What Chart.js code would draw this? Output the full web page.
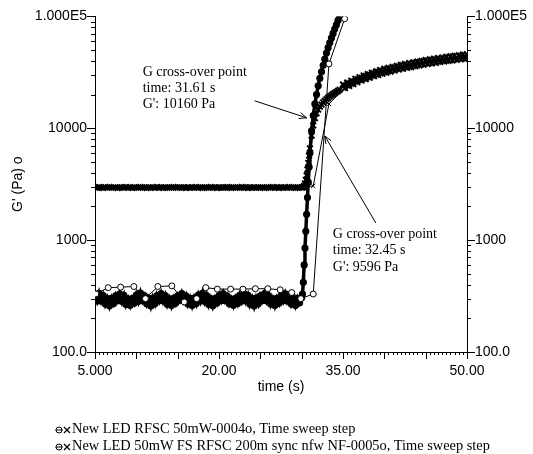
<!DOCTYPE html>
<html><head><meta charset="utf-8">
<script src="https://cdn.jsdelivr.net/npm/chart.js@4.4.1/dist/chart.umd.min.js"></script>
<style>
html,body{margin:0;padding:0;background:#fff;}
#wrap{position:relative;width:533px;height:454px;overflow:hidden;}
canvas{position:absolute;left:0;top:0;}
.leg{position:absolute;left:55px;font-family:"Liberation Serif","Times New Roman",serif;font-size:14.4px;color:#000;white-space:nowrap;line-height:16px;height:16px;}
.leg svg{vertical-align:-2px;margin-right:1px;}
</style></head><body>
<div id="wrap"><canvas id="c" width="533" height="454"></canvas>
<div class="leg" id="leg1" style="top:420px"></div>
<div class="leg" id="leg2" style="top:437px"></div>
</div>
<script>
// ---------- data ----------
const legendLabels = [
  "New LED RFSC 50mW-0004o, Time sweep step",
  "New LED 50mW FS RFSC 200m sync nfw NF-0005o, Time sweep step"
];
const xTickValues = [5, 20, 35, 50];
const xTickLabels = ["5.000", "20.00", "35.00", "50.00"];
const yTickValues = [100, 1000, 10000, 100000];
const yTickLabels = ["100.0", "1000", "10000", "1.000E5"];

// sample 1 (0004) - sparse points (time s, G' Pa, G'' Pa)
const s1Time = [5.1, 6.6, 8.1, 9.7, 11.1, 12.6, 14.3, 15.8, 17.3, 18.4, 19.8, 21.4, 22.9, 24.4, 25.9, 27.4, 28.8, 29.9, 31.4, 33.3, 35.2, 36.9, 38.6, 40.3, 42.0, 43.7, 45.4, 47.1, 48.8, 50.0];
const s1Gp  = [330, 376, 380, 385, 300, 385, 390, 280, 300, 376, 365, 365, 365, 368, 368, 360, 340, 300, 330, 37600, 95300];
const s1Gpp = [2950, 2960, 2940, 2950, 2970, 2950, 2940, 2960, 2950, 2950, 2940, 2960, 2950, 2950, 2960, 2940, 2950, 2950, 3050, 16500, 22800, 26500, 29800, 32800, 35000, 37000, 39000, 40800, 42200, 43000];

// sample 2 (0005) - dense points
const s2Time = [
  5.00, 5.25, 5.50, 5.75, 6.00, 6.25, 6.50, 6.75, 7.00, 7.25,
  7.50, 7.75, 8.00, 8.25, 8.50, 8.75, 9.00, 9.25, 9.50, 9.75,
  10.00, 10.25, 10.50, 10.75, 11.00, 11.25, 11.50, 11.75, 12.00, 12.25,
  12.50, 12.75, 13.00, 13.25, 13.50, 13.75, 14.00, 14.25, 14.50, 14.75,
  15.00, 15.25, 15.50, 15.75, 16.00, 16.25, 16.50, 16.75, 17.00, 17.25,
  17.50, 17.75, 18.00, 18.25, 18.50, 18.75, 19.00, 19.25, 19.50, 19.75,
  20.00, 20.25, 20.50, 20.75, 21.00, 21.25, 21.50, 21.75, 22.00, 22.25,
  22.50, 22.75, 23.00, 23.25, 23.50, 23.75, 24.00, 24.25, 24.50, 24.75,
  25.00, 25.25, 25.50, 25.75, 26.00, 26.25, 26.50, 26.75, 27.00, 27.25,
  27.50, 27.75, 28.00, 28.25, 28.50, 28.75, 29.00, 29.25, 29.50, 29.75,
  30.00,
  30.1, 30.2, 30.3, 30.4, 30.5, 30.6, 30.7, 30.8, 30.9, 31.0,
  31.2, 31.4, 31.6, 31.8, 32.0, 32.2, 32.4, 32.6, 32.8, 33.0, 33.2, 33.4, 33.6, 33.8, 34.0, 34.2, 34.4, 34.6,
  35.00, 35.25, 35.50, 35.75, 36.00, 36.25, 36.50, 36.75, 37.00, 37.25,
  37.50, 37.75, 38.00, 38.25, 38.50, 38.75, 39.00, 39.25, 39.50, 39.75,
  40.00, 40.25, 40.50, 40.75, 41.00, 41.25, 41.50, 41.75, 42.00, 42.25,
  42.50, 42.75, 43.00, 43.25, 43.50, 43.75, 44.00, 44.25, 44.50, 44.75,
  45.00, 45.25, 45.50, 45.75, 46.00, 46.25, 46.50, 46.75, 47.00, 47.25,
  47.50, 47.75, 48.00, 48.25, 48.50, 48.75, 49.00, 49.25, 49.50, 49.75,
  50.00];
const s2Gp = [
  321, 286, 334, 286, 319, 268, 300, 259, 302, 272,
  318, 289, 331, 284, 321, 266, 298, 262, 300, 274,
  323, 284, 336, 288, 317, 270, 301, 258, 304, 270,
  320, 287, 332, 285, 320, 267, 299, 260, 301, 273,
  317, 290, 333, 287, 318, 269, 302, 261, 303, 271,
  322, 285, 335, 284, 320, 266, 300, 259, 300, 274,
  319, 288, 332, 288, 316, 270, 297, 262, 302, 272,
  321, 286, 334, 285, 321, 267, 301, 258, 303, 270,
  318, 289, 333, 287, 319, 268, 299, 260, 301, 273,
  320, 287, 331, 286, 318, 269, 300, 261, 302, 275,
  305,
  330, 420, 600, 850, 1200, 1700, 2400, 3300, 4500, 6000,
  9500, 13000, 16500, 20000, 24000, 28000, 32000, 36500, 41500, 47000, 52500, 58000, 64000, 70500, 77000, 84000, 92000, 100000];
const s2Gpp = [
  2960, 2940, 2980, 2950, 2930, 2970, 2950, 2990, 2940, 2960,
  2950, 2930, 2970, 2960, 2940, 2980, 2950, 2960, 2930, 2970,
  2950, 2940, 2980, 2960, 2950, 2930, 2970, 2950, 2960, 2940,
  2980, 2950, 2960, 2930, 2970, 2950, 2940, 2960, 2980, 2950,
  2940, 2970, 2950, 2960, 2930, 2970, 2950, 2960, 2940, 2980,
  2960, 2950, 2930, 2970, 2960, 2940, 2980, 2950, 2960, 2930,
  2970, 2950, 2940, 2960, 2980, 2950, 2930, 2970, 2950, 2960,
  2940, 2980, 2960, 2950, 2930, 2970, 2950, 2960, 2940, 2970,
  2950, 2960, 2930, 2970, 2950, 2940, 2980, 2960, 2950, 2930,
  2970, 2950, 2960, 2940, 2980, 2950, 2960, 2930, 2970, 2950,
  2960,
  2960, 2980, 3050, 3200, 3450, 3800, 4300, 4900, 5700, 6600,
  8600, 10600, 12300, 13600, 14700, 15600, 16300, 17000, 17600, 18200, 18700, 19200, 19700, 20200, 20700, 21100, 21600, 22100,
  24600, 22900, 25600, 23900, 26600, 24800, 27700, 25800, 28600, 26700,
  29600, 27500, 30500, 28300, 31400, 29200, 32300, 29900, 33100, 30700,
  34000, 31400, 34700, 32100, 35400, 32800, 36100, 33500, 36900, 34000,
  37600, 34700, 38200, 35200, 38900, 35800, 39500, 36400, 40100, 37000,
  40700, 37600, 41300, 38000, 41900, 38500, 42400, 39100, 42900, 39600,
  43500, 40000, 44000, 40400, 44500, 40900, 44900, 41400, 45500, 41700,
  45800];

// annotations: text lines and arrow tip (data units)
const note1Lines = ["G cross-over point", "time: 31.61 s", "G': 10160 Pa"];
const note1Tip = [30.6, 12400];
const note2Lines = ["G cross-over point", "time: 32.45 s", "G': 9596 Pa"];
const note2Tip = [32.8, 8530];

// ---------- chart ----------
function pts(t, v) { return v.map((y, i) => ({x: t[i], y: y})); }

const tickPlugin = {
  id: 'ticksDraw',
  afterDraw(chart) {
    const ctx = chart.ctx, xs = chart.scales.x, yl = chart.scales.y;
    const a = chart.chartArea;
    ctx.save();
    ctx.strokeStyle = '#000'; ctx.lineWidth = 1;
    ctx.beginPath();
    for (let i = 0; i <= 90; i++) {
      const v = 5 + i * 0.5;
      const px = Math.round(xs.getPixelForValue(v)) + 0.5;
      const len = (i % 10 === 0) ? 7 : 3;
      ctx.moveTo(px, a.bottom); ctx.lineTo(px, a.bottom + len);
    }
    [100, 1000, 10000].forEach(d => {
      for (let k = 1; k <= 9; k++) {
        const py = Math.round(yl.getPixelForValue(d * k)) + 0.5;
        const len = k === 1 ? 8 : 4;
        ctx.moveTo(a.left, py); ctx.lineTo(a.left - len, py);
        ctx.moveTo(a.right, py); ctx.lineTo(a.right + len, py);
      }
    });
    const pt = Math.round(yl.getPixelForValue(100000)) + 0.5;
    ctx.moveTo(a.left, pt); ctx.lineTo(a.left - 8, pt);
    ctx.moveTo(a.right, pt); ctx.lineTo(a.right + 8, pt);
    ctx.stroke();
    ctx.restore();
  }
};

function arrow(ctx, x0, y0, x1, y1) {
  ctx.beginPath();
  ctx.moveTo(x0, y0); ctx.lineTo(x1, y1);
  const ang = Math.atan2(y1 - y0, x1 - x0), L = 8, w = 0.4;
  ctx.moveTo(x1 - L * Math.cos(ang - w), y1 - L * Math.sin(ang - w));
  ctx.lineTo(x1, y1);
  ctx.lineTo(x1 - L * Math.cos(ang + w), y1 - L * Math.sin(ang + w));
  ctx.stroke();
}

const notePlugin = {
  id: 'notes',
  afterDatasetsDraw(chart) {
    const ctx = chart.ctx, xs = chart.scales.x, ys = chart.scales.y;
    ctx.save();
    ctx.fillStyle = '#000'; ctx.strokeStyle = '#000'; ctx.lineWidth = 1;
    ctx.font = '14px "Liberation Serif", "Times New Roman", serif';
    ctx.textBaseline = 'middle'; ctx.textAlign = 'left';
    const t1x = xs.getPixelForValue(note1Tip[0]), t1y = ys.getPixelForValue(note1Tip[1]);
    note1Lines.forEach((s, i) => ctx.fillText(s, t1x - 164, t1y - 45 + i * 16));
    arrow(ctx, t1x - 52, t1y - 17, t1x, t1y);
    const t2x = xs.getPixelForValue(note2Tip[0]), t2y = ys.getPixelForValue(note2Tip[1]);
    note2Lines.forEach((s, i) => ctx.fillText(s, t2x + 8, t2y + 98 + i * 16.5));
    arrow(ctx, t2x + 51, t2y + 87, t2x, t2y);
    ctx.restore();
  }
};

const sansFont = {family: '"Liberation Sans", Arial, Helvetica, sans-serif', size: 14};

const chart = new Chart(document.getElementById('c'), {
  type: 'line',
  data: {
    datasets: [
      {label: legendLabels[0] + " G'", data: pts(s1Time, s1Gp), borderColor: '#000', borderWidth: 1,
       pointStyle: 'circle', pointRadius: 3, pointBorderWidth: 1, pointBorderColor: '#000', pointBackgroundColor: '#fff'},
      {label: legendLabels[0] + " G''", data: pts(s1Time, s1Gpp), borderColor: '#000', borderWidth: 1,
       pointStyle: 'crossRot', pointRadius: 3, pointBorderWidth: 1, pointBorderColor: '#000'},
      {label: legendLabels[1] + " G'", data: pts(s2Time, s2Gp), borderColor: '#000', borderWidth: 3.5,
       pointStyle: 'circle', pointRadius: 3, pointBorderWidth: 1.2, pointBorderColor: '#000', pointBackgroundColor: '#000'},
      {label: legendLabels[1] + " G''", data: pts(s2Time, s2Gpp), borderColor: '#000', borderWidth: 3,
       pointStyle: 'crossRot', pointRadius: 4, pointBorderWidth: 2, pointBorderColor: '#000'}
    ]
  },
  options: {
    responsive: false, animation: false, devicePixelRatio: 1,
    layout: {padding: {left: 0, right: 0, top: 15, bottom: 58}},
    plugins: {legend: {display: false}, tooltip: {enabled: false}},
    elements: {line: {tension: 0}},
    scales: {
      x: {
        type: 'linear', position: 'bottom', min: 5, max: 50,
        afterBuildTicks: s => { s.ticks = xTickValues.map(v => ({value: v})); },
        afterFit: s => { s.height = 44; },
        grid: {display: false, drawTicks: false},
        border: {display: true, color: '#000', width: 1},
        ticks: {autoSkip: false, maxRotation: 0, padding: 11, color: '#000', font: sansFont,
                callback: (v, i) => xTickLabels[i]},
        title: {display: true, text: 'time (s)', color: '#000', font: sansFont, padding: {top: 0, bottom: 0}}
      },
      y: {
        type: 'logarithmic', position: 'left', min: 100, max: 100000,
        afterBuildTicks: s => { s.ticks = yTickValues.map(v => ({value: v})); },
        afterFit: s => { s.width = 95; },
        grid: {display: false, drawTicks: false},
        border: {display: true, color: '#000', width: 1},
        ticks: {padding: 8, color: '#000', font: sansFont, callback: (v, i) => yTickLabels[i]},
        title: {display: true, text: "G' (Pa) o", color: '#000', font: sansFont, padding: {top: 10, bottom: 0}}
      },
      y2: {
        type: 'logarithmic', position: 'right', min: 100, max: 100000,
        afterBuildTicks: s => { s.ticks = yTickValues.map(v => ({value: v})); },
        afterFit: s => { s.width = 66; },
        grid: {display: false, drawTicks: false},
        border: {display: true, color: '#000', width: 1},
        ticks: {padding: 8, color: '#000', font: sansFont, callback: (v, i) => yTickLabels[i]}
      }
    }
  },
  plugins: [tickPlugin, notePlugin]
});

// legend (real text)
const sym = '<svg width="16" height="10" viewBox="0 0 16 10"><circle cx="4" cy="5" r="3" fill="none" stroke="#000" stroke-width="1"/><line x1="0.5" y1="5" x2="7.5" y2="5" stroke="#000" stroke-width="1"/><line x1="9" y1="2" x2="15" y2="8" stroke="#000" stroke-width="1.2"/><line x1="9" y1="8" x2="15" y2="2" stroke="#000" stroke-width="1.2"/></svg>';
document.getElementById('leg1').innerHTML = sym + '<span>' + legendLabels[0] + '</span>';
document.getElementById('leg2').innerHTML = sym + '<span>' + legendLabels[1] + '</span>';
</script>
</body></html>
